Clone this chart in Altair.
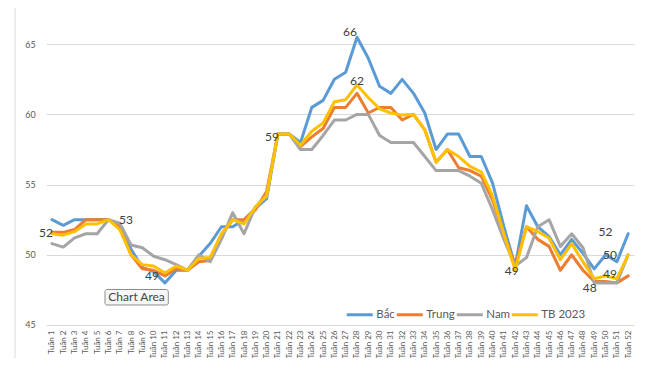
import altair as alt
import pandas as pd

weeks = list(range(1, 53))
series_names = ["Bắc", "Trung", "Nam", "TB 2023"]
series_colors = ["#5B9BD5", "#ED7D31", "#A5A5A5", "#FFC000"]

bac = [52.5, 52.1, 52.5, 52.5, 52.5, 52.5, 52.1, 50.4, 49.1, 48.8, 48.0, 48.9, 48.9, 49.9, 50.8,
       52.0, 52.0, 52.5, 53.3, 54.0, 58.6, 58.6, 58.0, 60.5, 61.0, 62.5, 63.0, 65.5, 64.0, 62.0,
       61.5, 62.5, 61.5, 60.1, 57.5, 58.6, 58.6, 57.0, 57.0, 55.1, 52.0, 49.2, 53.5, 52.0, 51.3,
       50.0, 51.1, 50.1, 49.0, 50.0, 49.5, 51.5]
trung = [51.6, 51.6, 51.8, 52.5, 52.5, 52.5, 52.0, 50.0, 49.0, 48.9, 48.5, 49.0, 48.9, 49.5, 49.6,
         51.4, 52.5, 52.5, 53.2, 54.5, 58.6, 58.6, 57.7, 58.4, 59.0, 60.5, 60.5, 61.5, 60.1, 60.5,
         60.5, 59.6, 60.0, 58.9, 56.6, 57.5, 56.2, 56.0, 55.6, 53.9, 51.5, 49.2, 52.0, 51.1, 50.6,
         48.9, 50.0, 48.9, 48.1, 48.1, 48.0, 48.5]
nam = [50.8, 50.55, 51.2, 51.5, 51.5, 52.5, 52.25, 50.7, 50.5, 49.9, 49.65, 49.3, 48.9, 50.0, 49.5,
       51.1, 53.0, 51.5, 53.4, 54.2, 58.6, 58.6, 57.5, 57.5, 58.5, 59.6, 59.6, 60.0, 60.0, 58.5,
       58.0, 58.0, 58.0, 57.0, 56.0, 56.0, 56.0, 55.6, 55.1, 53.2, 51.1, 49.2, 49.8, 52.0, 52.5,
       50.6, 51.5, 50.5, 48.0, 48.0, 48.0, 50.0]
tb2023 = [51.5, 51.4, 51.65, 52.2, 52.2, 52.5, 51.8, 50.0, 49.3, 49.2, 48.7, 49.2, 48.9, 49.75, 49.8,
          51.5, 52.5, 52.2, 53.4, 54.2, 58.6, 58.6, 57.8, 58.8, 59.4, 60.9, 61.05, 62.1, 61.2, 60.4,
          60.1, 59.95, 60.0, 58.9, 56.6, 57.5, 57.0, 56.3, 55.9, 54.2, 51.5, 48.9, 52.0, 51.65, 51.2,
          49.65, 50.8, 49.5, 48.3, 48.5, 48.3, 50.0]

label_texts = ["52", "53", "49", "59", "66", "62", "49", "52", "50", "49", "48"]
label_weeks = [0.47, 7.55, 9.85, 20.47, 27.37, 28.0, 41.7, 50.0, 50.4, 50.4, 48.6]
label_values = [51.57, 52.5, 48.5, 58.4, 65.9, 62.4, 48.86, 51.6, 50.0, 48.65, 47.6]

y_ticks = [45, 50, 55, 60, 65]

rows = []
for name, vals in zip(series_names, [bac, trung, nam, tb2023]):
    for w, v in zip(weeks, vals):
        rows.append({"week": w, "value": v, "series": name})
df = pd.DataFrame(rows)
labels_df = pd.DataFrame({"week": label_weeks, "value": label_values, "txt": label_texts})

FONT = "Lato"
x_scale = alt.Scale(domain=[0.5, 52.5], nice=False, zero=False)
y_scale = alt.Scale(domain=[45, 67.58], nice=False, zero=False)

x_axis = alt.Axis(values=weeks, labelExpr="'Tuần ' + datum.value", labelAngle=270,
                  labelAlign="right", labelBaseline="middle", labelFontSize=8,
                  labelPadding=5, ticks=False, grid=False, labelOverlap=False,
                  labelFlush=False, labelBound=False, domainColor="#D9D9D9",
                  labelColor="#595959", labelFont=FONT)
y_axis = alt.Axis(values=y_ticks, ticks=False, domain=False, labelPadding=11,
                  labelFontSize=9, labelColor="#595959", gridColor="#D9D9D9",
                  labelFont=FONT)

lines = alt.Chart(df).mark_line(strokeWidth=3, strokeJoin="round", strokeCap="round").encode(
    x=alt.X("week:Q", scale=x_scale, title=None, axis=x_axis),
    y=alt.Y("value:Q", scale=y_scale, title=None, axis=y_axis),
    color=alt.Color("series:N", sort=series_names,
                    scale=alt.Scale(domain=series_names, range=series_colors),
                    legend=alt.Legend(title=None, orient="none", legendX=299, legendY=292,
                                      direction="horizontal", symbolType="stroke",
                                      symbolStrokeWidth=3, symbolSize=676, labelFontSize=11.5,
                                      labelColor="#595959", labelFont=FONT, columnPadding=-7,
                                      labelOffset=2)),
    detail="series:N",
)

texts = alt.Chart(labels_df).mark_text(fontSize=12, color="#404040", font=FONT,
                                       align="center", baseline="middle").encode(
    x=alt.X("week:Q", scale=x_scale, title=None, axis=x_axis),
    y=alt.Y("value:Q", scale=y_scale, title=None, axis=y_axis),
    text="txt:N",
)

one = alt.Data(values=[{"a": 1}])
left_border = alt.Chart(one).mark_rule(color="#D9D9D9", strokeWidth=1).encode(
    x=alt.value(-31.3), y=alt.value(-8), y2=alt.value(355))
right_border = alt.Chart(one).mark_rule(color="#D9D9D9", strokeWidth=1).encode(
    x=alt.value(600.7), y=alt.value(-8), y2=alt.value(358))

tip_box = alt.Chart(one).mark_rect(fill="#F7F7F7", stroke="#8C8C8C", strokeWidth=1,
                                   cornerRadius=2).encode(
    x=alt.value(58.7), x2=alt.value(122), y=alt.value(281.5), y2=alt.value(297))
tip_text = alt.Chart(one).mark_text(text="Chart Area", fontSize=12, color="#444444", font=FONT,
                                    align="center", baseline="middle").encode(
    x=alt.value(90.3), y=alt.value(289.5))

chart = alt.layer(lines, texts, left_border, right_border, tip_box, tip_text).properties(
    width=587.5, height=317,
    autosize=alt.AutoSizeParams(type="none"),
    padding={"left": 38.3, "top": 0, "right": 8, "bottom": 33},
    background="white",
).configure_view(stroke=None).configure_axisX(labelOverlap=False)

chart.save("out.html", embed_options={"renderer": "svg", "actions": False})
